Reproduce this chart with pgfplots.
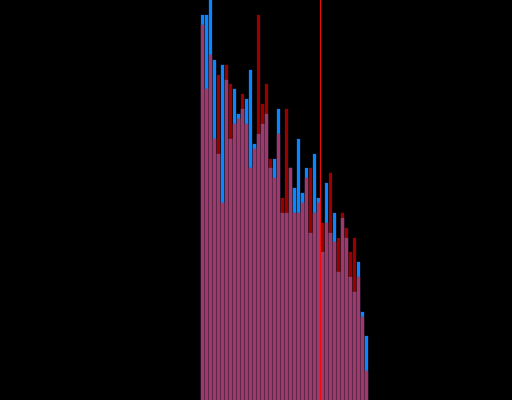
\documentclass[border=0pt]{standalone}
\usepackage{pgfplots}
\usepackage{pgfplotstable}
\pgfplotsset{compat=1.18}
\definecolor{cblue}{RGB}{12,134,255}
\definecolor{cred}{RGB}{154,0,0}
\definecolor{cmauve}{RGB}{158,58,105}
\definecolor{cline}{RGB}{240,10,10}
\pgfplotstableread{
i b r
0 385 375
1 385 311
2 430 345
3 340 261
4 246 325
5 335 197
6 320 335
7 261 316
8 311 276
9 286 281
10 291 306
11 301 276
12 330 232
13 256 251
14 266 385
15 276 296
16 286 316
17 232 241
18 241 222
19 291 266
20 187 202
21 187 291
22 232 232
23 212 187
24 261 187
25 207 197
26 232 222
27 167 232
28 246 187
29 202 197
30 148 177
31 217 177
32 167 227
33 187 158
34 128 162
35 182 187
36 162 172
37 123 148
38 108 162
39 138 123
40 88 83
41 64 29
}\datatable
\begin{document}
\begin{tikzpicture}
\fill[black] (0,0) rectangle (512bp,400bp);
\useasboundingbox (0,0) rectangle (512bp,400bp);
\begin{axis}[at={(0,0)}, anchor=south west, scale only axis,
  width=512bp, height=400bp,
  xmin=-50.625, xmax=77.375, ymin=0, ymax=400,
  hide axis, clip=true,
  ybar, bar width=0.8, bar shift=0pt]
\addplot[fill=cblue, draw=none] table[x=i, y=b] {\datatable};
\addplot[fill=cred, draw=none] table[x=i, y=r] {\datatable};
\addplot[fill=cmauve, draw=none] table[x=i, y expr={min(\thisrow{b},\thisrow{r})}] {\datatable};
\addplot[sharp plot, cline, line width=1.1bp] coordinates {(29.45,0) (29.45,400)};
\end{axis}
\end{tikzpicture}
\end{document}
